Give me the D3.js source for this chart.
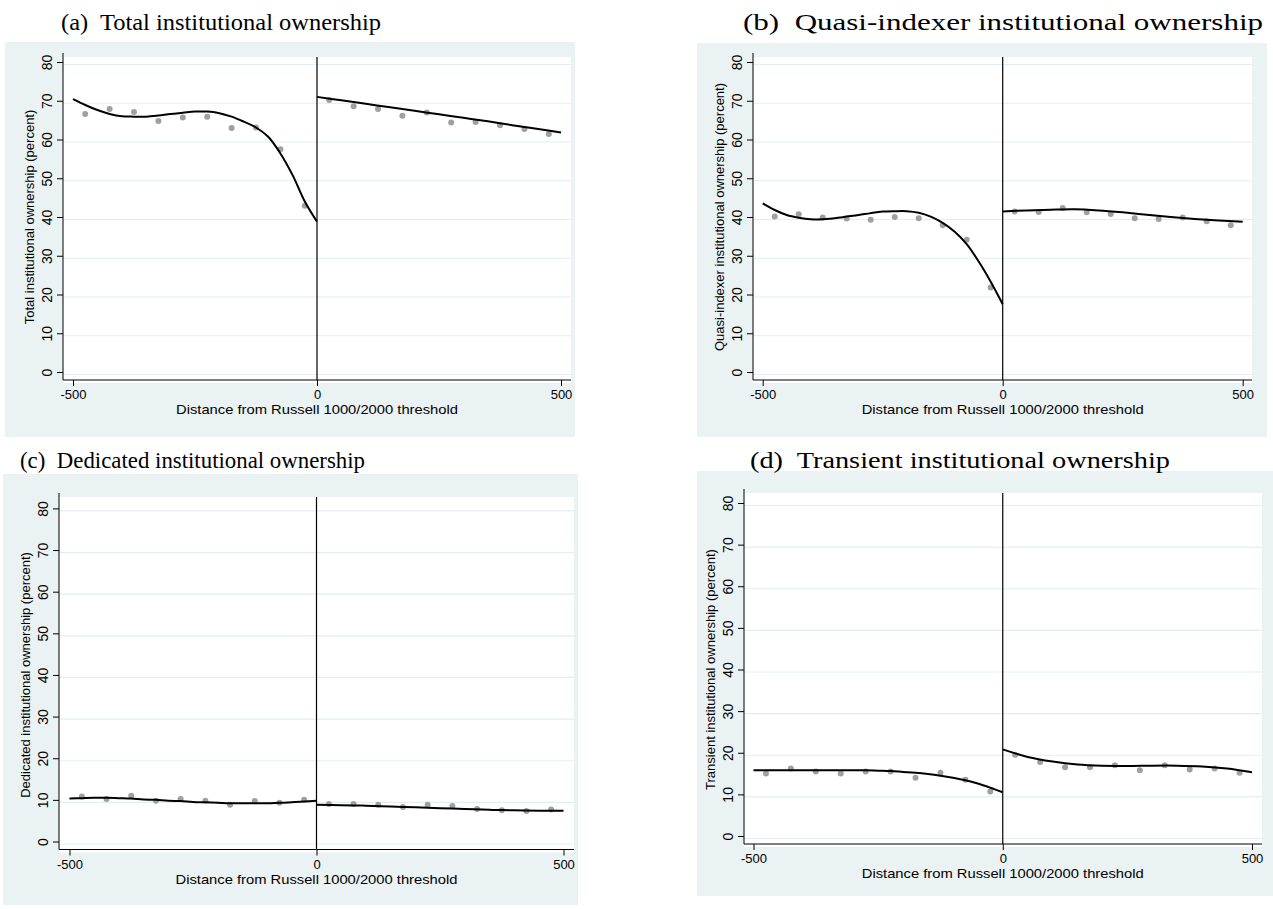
<!DOCTYPE html>
<html>
<head>
<meta charset="utf-8">
<script src="https://cdn.jsdelivr.net/npm/d3@7"></script>
<style>
  body { margin: 0; background: #fff; }
  svg { display: block; }
</style>
</head>
<body>
<div id="chart"></div>
<script>
// bins (distance from threshold) and tick labels
var binsLeft = [-475, -425, -375, -325, -275, -225, -175, -125, -75, -25];
var binsRight = [25, 75, 125, 175, 225, 275, 325, 375, 425, 475];
var fitXLeft = [-500, -475, -450, -425, -400, -375, -350, -325, -300, -275, -250,
                -225, -200, -175, -150, -125, -100, -75, -50, -25, 0];
var fitXRight = [0, 50, 100, 150, 200, 250, 300, 350, 400, 450, 500];
var xTicks = [-500, 0, 500];
var yTicks = [0, 10, 20, 30, 40, 50, 60, 70, 80];

// (a) total
var totalPtsLeft = [66.6, 67.9, 67.1, 64.8, 65.7, 65.9, 63.0, 63.1, 57.5, 42.9];
var totalPtsRight = [70.2, 68.6, 67.9, 66.1, 67.0, 64.4, 64.5, 63.7, 62.7, 61.4];
var totalFitLeft = [70.4, 68.9, 67.6, 66.6, 66.0, 65.9, 65.9, 66.2, 66.6, 66.9, 67.2,
                    67.2, 66.8, 65.9, 64.6, 63.1, 60.7, 56.4, 50.8, 44.0, 38.8];
var totalFitRight = [71.0, 70.1, 69.2, 68.3, 67.4, 66.5, 65.6, 64.7, 63.7, 62.8, 61.8];

// (b) quasi-indexer
var quasiPtsLeft = [40.1, 40.7, 39.9, 39.6, 39.3, 40.0, 39.7, 37.9, 34.1, 21.8];
var quasiPtsRight = [41.4, 41.3, 42.3, 41.2, 40.8, 39.7, 39.5, 39.9, 38.9, 37.9];
var quasiFitLeft = [43.5, 41.8, 40.5, 39.8, 39.4, 39.4, 39.7, 40.1, 40.5, 41.0, 41.4,
                    41.5, 41.5, 41.1, 40.1, 38.5, 36.2, 33.0, 28.5, 23.3, 17.5];
var quasiFitRight = [41.4, 41.7, 41.9, 42.0, 41.7, 41.2, 40.6, 40.0, 39.5, 39.1, 38.8];

// (c) dedicated
var dedPtsLeft = [10.8, 10.2, 11.0, 9.8, 10.2, 9.8, 8.8, 9.7, 9.3, 10.0];
var dedPtsRight = [9.0, 9.0, 8.8, 8.3, 8.8, 8.5, 7.8, 7.5, 7.3, 7.7];
var dedFitLeft = [10.3, 10.4, 10.5, 10.5, 10.4, 10.3, 10.1, 10.0, 9.8, 9.7, 9.5,
                  9.4, 9.3, 9.2, 9.2, 9.2, 9.2, 9.3, 9.4, 9.6, 9.8];
var dedFitRight = [8.8, 8.7, 8.6, 8.4, 8.2, 8.0, 7.8, 7.6, 7.5, 7.4, 7.4];

// (d) transient
var transPtsLeft = [15.0, 16.2, 15.5, 15.0, 15.5, 15.5, 14.0, 15.2, 13.5, 10.7];
var transPtsRight = [19.5, 17.8, 16.5, 16.5, 17.0, 15.8, 17.0, 16.0, 16.2, 15.2];
var transFitLeft = [15.8, 15.8, 15.8, 15.8, 15.8, 15.8, 15.8, 15.8, 15.8, 15.8, 15.7,
                    15.6, 15.4, 15.2, 14.9, 14.5, 14.0, 13.4, 12.6, 11.6, 10.5];
var transFitRight = [20.8, 19.0, 17.9, 17.2, 16.9, 16.8, 16.9, 16.9, 16.7, 16.2, 15.3];

var xTitle = "Distance from Russell 1000/2000 threshold";

var panels = [
  { title: "(a)  Total institutional ownership", titleX: 61, titleY: 30, titleLen: 320,
    ytitle: "Total institutional ownership (percent)",
    bg: [5, 42, 575, 437], axisX: 63, plotRight: 571, plotTop: 57,
    xr: [73, 561], yr: [372, 62],
    ptsL: totalPtsLeft, ptsR: totalPtsRight, fitL: totalFitLeft, fitR: totalFitRight },
  { title: "(b)  Quasi-indexer institutional ownership", titleX: 743, titleY: 30, titleLen: 520,
    ytitle: "Quasi-indexer institutional ownership (percent)",
    bg: [697, 43, 1267, 437], axisX: 753, plotRight: 1252, plotTop: 57,
    xr: [762.7, 1242.7], yr: [372, 62],
    ptsL: quasiPtsLeft, ptsR: quasiPtsRight, fitL: quasiFitLeft, fitR: quasiFitRight },
  { title: "(c)  Dedicated institutional ownership", titleX: 20, titleY: 468, titleLen: 345,
    ytitle: "Dedicated institutional ownership (percent)",
    bg: [3, 474, 578, 905], axisX: 59, plotRight: 574, plotTop: 497,
    xr: [69.5, 563.5], yr: [841.5, 508.4],
    ptsL: dedPtsLeft, ptsR: dedPtsRight, fitL: dedFitLeft, fitR: dedFitRight },
  { title: "(d)  Transient institutional ownership", titleX: 750, titleY: 468, titleLen: 420,
    ytitle: "Transient institutional ownership (percent)",
    bg: [697, 471, 1273, 896], axisX: 744, plotRight: 1262, plotTop: 493,
    xr: [753.5, 1252], yr: [836, 503],
    ptsL: transPtsLeft, ptsR: transPtsRight, fitL: transFitLeft, fitR: transFitRight }
];

var svg = d3.select("#chart")
  .append("svg")
  .attr("width", 1273)
  .attr("height", 909);

panels.forEach(function(p) {
  var x = d3.scaleLinear().domain([-500, 500]).range(p.xr);
  var y = d3.scaleLinear().domain([0, 80]).range(p.yr);
  var axisY = y(0) + 8;
  var g = svg.append("g");

  // outer graph region
  g.append("rect")
    .attr("x", p.bg[0]).attr("y", p.bg[1])
    .attr("width", p.bg[2] - p.bg[0]).attr("height", p.bg[3] - p.bg[1])
    .attr("fill", "#eaf2f3");

  // plot region
  g.append("rect")
    .attr("x", p.axisX).attr("y", p.plotTop)
    .attr("width", p.plotRight - p.axisX).attr("height", axisY + 3 - p.plotTop)
    .attr("fill", "#fff");

  // grid lines
  g.selectAll("line.grid")
    .data(yTicks)
    .enter()
    .append("line")
    .attr("class", "grid")
    .attr("x1", p.axisX).attr("x2", p.plotRight)
    .attr("y1", d => y(d) + 2.5).attr("y2", d => y(d) + 2.5)
    .attr("stroke", "#e4eef0")
    .attr("stroke-width", 1.2);

  // title
  svg.append("text")
    .attr("x", p.titleX).attr("y", p.titleY)
    .style("white-space", "pre")
    .attr("font-family", "Liberation Serif, Times New Roman, serif")
    .attr("font-size", 24)
    .attr("textLength", p.titleLen)
    .attr("lengthAdjust", "spacingAndGlyphs")
    .attr("fill", "#000")
    .text(p.title);

  // y axis
  var leftAxis = d3.axisLeft(y).tickValues(yTicks).tickSize(6).tickPadding(0);
  var ya = g.append("g")
    .attr("transform", `translate(${p.axisX}, 0)`)
    .call(leftAxis);
  ya.select(".domain").attr("d", `M0,${p.plotTop - 4}V${axisY}`).attr("stroke", "#000");
  ya.selectAll(".tick line").attr("stroke", "#000");
  ya.selectAll(".tick text")
    .attr("x", 0).attr("dy", 0)
    .attr("transform", "translate(-16.5, 0) rotate(-90)")
    .attr("text-anchor", "middle")
    .attr("dominant-baseline", "central")
    .attr("font-family", "Liberation Sans, Arial, sans-serif")
    .attr("font-size", 14)
    .attr("fill", "#000");

  // x axis
  var bottomAxis = d3.axisBottom(x).tickValues(xTicks).tickSize(6).tickPadding(4)
    .tickFormat(d3.format("d"));
  var xa = g.append("g")
    .attr("transform", `translate(0, ${axisY})`)
    .call(bottomAxis);
  xa.select(".domain").attr("d", `M${p.axisX},0H${p.plotRight}`).attr("stroke", "#000");
  xa.selectAll(".tick line").attr("stroke", "#000");
  xa.selectAll(".tick text")
    .attr("font-family", "Liberation Sans, Arial, sans-serif")
    .attr("font-size", 13)
    .attr("fill", "#000")
    .text(d => d < 0 ? "-" + Math.abs(d) : d);

  // axis titles
  g.append("text")
    .attr("x", (p.xr[0] + p.xr[1]) / 2)
    .attr("y", axisY + 34)
    .attr("text-anchor", "middle")
    .attr("font-family", "Liberation Sans, Arial, sans-serif")
    .attr("font-size", 13.5)
    .attr("textLength", 282)
    .attr("lengthAdjust", "spacingAndGlyphs")
    .text(xTitle);

  g.append("text")
    .attr("transform", `translate(${p.axisX - 34}, ${(y(0) + y(80)) / 2}) rotate(-90)`)
    .attr("text-anchor", "middle")
    .attr("dominant-baseline", "central")
    .attr("font-family", "Liberation Sans, Arial, sans-serif")
    .attr("font-size", 13)
    .text(p.ytitle);

  // threshold line
  g.append("line")
    .attr("x1", x(0)).attr("x2", x(0))
    .attr("y1", p.plotTop).attr("y2", axisY)
    .attr("stroke", "#000")
    .attr("stroke-width", 1.2);

  // binned means
  var pts = binsLeft.map((b, i) => ({ x: b, y: p.ptsL[i] }))
    .concat(binsRight.map((b, i) => ({ x: b, y: p.ptsR[i] })));
  g.selectAll("circle")
    .data(pts)
    .enter()
    .append("circle")
    .attr("cx", d => x(d.x))
    .attr("cy", d => y(d.y))
    .attr("r", 3)
    .attr("fill", "#a0a0a0");

  // fitted polynomials
  var line = d3.line()
    .x(d => x(d[0]))
    .y(d => y(d[1]))
    .curve(d3.curveCatmullRom);
  g.append("path")
    .datum(fitXLeft.map((v, i) => [v, p.fitL[i]]))
    .attr("d", line)
    .attr("fill", "none")
    .attr("stroke", "#000")
    .attr("stroke-width", 2);
  g.append("path")
    .datum(fitXRight.map((v, i) => [v, p.fitR[i]]))
    .attr("d", line)
    .attr("fill", "none")
    .attr("stroke", "#000")
    .attr("stroke-width", 2);
});
</script>
</body>
</html>
